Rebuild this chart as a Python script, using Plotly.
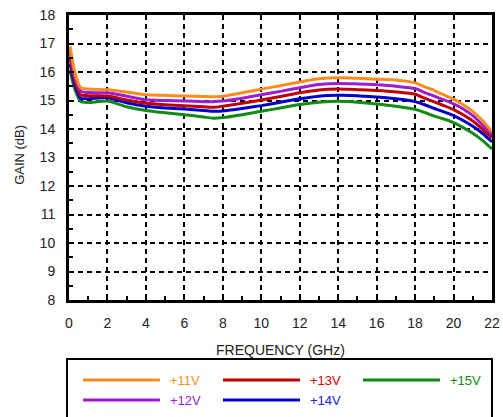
import plotly.graph_objects as go

freq = [0.05, 0.3, 0.6, 1, 2, 3, 4, 5, 6, 7, 7.5, 8, 9, 10, 11, 12, 13, 14, 15, 16, 17, 18, 18.5, 19, 19.5, 20, 20.5, 21, 21.5, 22]

gain_11v = [16.9, 16.0, 15.45, 15.4, 15.38, 15.3, 15.2, 15.18, 15.16, 15.14, 15.13, 15.15, 15.27, 15.4, 15.52, 15.65, 15.76, 15.8, 15.78, 15.75, 15.72, 15.62, 15.48, 15.35, 15.2, 15.05, 14.85, 14.62, 14.3, 13.9]
gain_12v = [16.75, 15.85, 15.33, 15.28, 15.27, 15.15, 15.03, 15.0, 14.98, 14.96, 14.96, 14.98, 15.08, 15.2, 15.32, 15.45, 15.56, 15.6, 15.58, 15.55, 15.5, 15.42, 15.28, 15.15, 15.02, 14.88, 14.7, 14.47, 14.15, 13.8]
gain_13v = [16.5, 15.7, 15.2, 15.17, 15.16, 15.02, 14.9, 14.85, 14.82, 14.78, 14.76, 14.8, 14.9, 15.02, 15.14, 15.27, 15.37, 15.4, 15.38, 15.35, 15.3, 15.22, 15.08, 14.95, 14.82, 14.68, 14.5, 14.28, 14.0, 13.7]
gain_14v = [16.3, 15.55, 15.08, 15.06, 15.1, 14.92, 14.8, 14.74, 14.7, 14.65, 14.62, 14.63, 14.72, 14.82, 14.94, 15.06, 15.15, 15.18, 15.17, 15.12, 15.06, 14.96, 14.85, 14.72, 14.6, 14.47, 14.3, 14.1, 13.85, 13.55]
gain_15v = [16.05, 15.4, 14.96, 14.93, 14.98, 14.78, 14.65, 14.57, 14.5, 14.42, 14.38, 14.4, 14.5, 14.62, 14.74, 14.86, 14.94, 14.97, 14.94, 14.88, 14.8, 14.69, 14.58, 14.45, 14.35, 14.22, 14.05, 13.85, 13.6, 13.3]

series_names = ["+11V", "+12V", "+13V", "+14V", "+15V"]
series_values = [gain_11v, gain_12v, gain_13v, gain_14v, gain_15v]
line_colors = ["#FF8C1A", "#9B1BD6", "#C00000", "#0000CC", "#138A13"]
text_colors = ["#FF8C1A", "#9B1BD6", "#E00000", "#2020DD", "#138A13"]

x_ticks = list(range(0, 23, 2))
y_ticks = list(range(8, 19, 1))

fig = go.Figure()
for name, vals, col in reversed(list(zip(series_names, series_values, line_colors))):
    fig.add_trace(go.Scatter(x=freq, y=vals, mode="lines", name=name,
                             line=dict(color=col, width=3, shape="spline", smoothing=0.6),
                             showlegend=False))

FAM = "Liberation Sans, Arial, sans-serif"
font = dict(family=FAM, size=14, color="#222222")

axis_common = dict(
    showline=True, linecolor="black", linewidth=3, mirror=True,
    showgrid=True, gridcolor="black", gridwidth=2, griddash="5px,4px",
    ticks="inside", ticklen=5, tickwidth=2, tickcolor="black",
    zeroline=False, tickfont=font, automargin=False, ticklabeloverflow="allow",
)

fig.update_xaxes(range=[0, 22], tickvals=x_ticks, ticktext=[str(v) for v in x_ticks],
                 minor=dict(dtick=1, ticks="inside", ticklen=4, tickwidth=2, tickcolor="black", showgrid=False),
                 ticklabelstandoff=8, **axis_common)
fig.update_yaxes(range=[8, 18], tickvals=y_ticks, ticktext=[str(v) for v in y_ticks],
                 minor=dict(dtick=0.5, ticks="inside", ticklen=4, tickwidth=2, tickcolor="black", showgrid=False),
                 ticklabelstandoff=8, **axis_common)

legend_pos = {
    "+11V": (0.0331, 0.215, 0.234, -0.281),
    "+13V": (0.364, 0.546, 0.565, -0.281),
    "+15V": (0.695, 0.877, 0.896, -0.281),
    "+12V": (0.0331, 0.215, 0.234, -0.351),
    "+14V": (0.364, 0.546, 0.565, -0.351),
}
shapes = [dict(type="rect", xref="paper", yref="paper", x0=-0.0047, x1=1.0, y0=-0.45, y1=-0.207,
               line=dict(color="black", width=2), fillcolor="rgba(0,0,0,0)")]
annotations = [
    dict(xref="paper", yref="paper", x=0.5, y=-0.175, text="FREQUENCY (GHz)", showarrow=False,
         xanchor="center", yanchor="middle", font=dict(family=FAM, size=14, color="#222222")),
    dict(xref="paper", yref="paper", x=-0.116, y=0.509, text="GAIN (dB)", showarrow=False, textangle=-90,
         xanchor="center", yanchor="middle", font=dict(family=FAM, size=13, color="#222222")),
]
for name, lc, tc in zip(series_names, line_colors, text_colors):
    x0, x1, xt, y = legend_pos[name]
    shapes.append(dict(type="line", xref="paper", yref="paper", x0=x0, x1=x1, y0=y, y1=y,
                       line=dict(color=lc, width=3)))
    annotations.append(dict(xref="paper", yref="paper", x=xt, y=y, text=name, showarrow=False,
                            xanchor="left", yanchor="middle",
                            font=dict(family=FAM, size=13, color=tc)))

fig.update_layout(
    width=503, height=417,
    margin=dict(l=69, r=11, t=15, b=117, autoexpand=False),
    plot_bgcolor="white", paper_bgcolor="white",
    shapes=shapes, annotations=annotations,
    font=font,
)

fig.write_html("out.html", config={"displayModeBar": False},
               post_script="document.body.style.margin='0';document.body.style.overflow='hidden';")
